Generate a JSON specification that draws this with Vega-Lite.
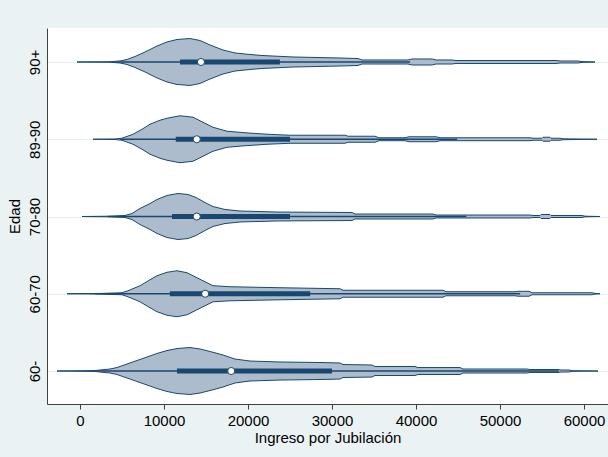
{
  "$schema": "https://vega.github.io/schema/vega-lite/v6.json",
  "width": 561,
  "height": 376,
  "autosize": "none",
  "padding": {"left": 47, "top": 28, "right": 0, "bottom": 53},
  "background": "#eaf2f3",
  "config": {
    "view": {"stroke": null, "fill": "white"},
    "font": "Liberation Sans",
    "axis": {"labelFont": "Liberation Sans", "titleFont": "Liberation Sans", "labelColor": "#000000", "titleColor": "#000000", "titleFontWeight": "normal", "labelFontSize": 15, "titleFontSize": 15, "domainColor": "#404040", "tickColor": "#404040"}
  },
  "datasets": {
    "violin": [
      {"edad": "90+", "ingreso": -357, "densidad": 0},
      {"edad": "90+", "ingreso": 3571, "densidad": 0.004},
      {"edad": "90+", "ingreso": 4762, "densidad": 0.013},
      {"edad": "90+", "ingreso": 5595, "densidad": 0.032},
      {"edad": "90+", "ingreso": 6548, "densidad": 0.071},
      {"edad": "90+", "ingreso": 7738, "densidad": 0.129},
      {"edad": "90+", "ingreso": 9167, "densidad": 0.207},
      {"edad": "90+", "ingreso": 10357, "densidad": 0.259},
      {"edad": "90+", "ingreso": 11548, "densidad": 0.291},
      {"edad": "90+", "ingreso": 13095, "densidad": 0.304},
      {"edad": "90+", "ingreso": 14286, "densidad": 0.278},
      {"edad": "90+", "ingreso": 15476, "densidad": 0.220},
      {"edad": "90+", "ingreso": 17024, "densidad": 0.155},
      {"edad": "90+", "ingreso": 18452, "densidad": 0.117},
      {"edad": "90+", "ingreso": 20238, "densidad": 0.097},
      {"edad": "90+", "ingreso": 21667, "densidad": 0.084},
      {"edad": "90+", "ingreso": 25357, "densidad": 0.065},
      {"edad": "90+", "ingreso": 30952, "densidad": 0.052},
      {"edad": "90+", "ingreso": 33095, "densidad": 0.045},
      {"edad": "90+", "ingreso": 33571, "densidad": 0.026},
      {"edad": "90+", "ingreso": 39048, "densidad": 0.026},
      {"edad": "90+", "ingreso": 39524, "densidad": 0.039},
      {"edad": "90+", "ingreso": 41905, "densidad": 0.039},
      {"edad": "90+", "ingreso": 42381, "densidad": 0.026},
      {"edad": "90+", "ingreso": 44286, "densidad": 0.026},
      {"edad": "90+", "ingreso": 44762, "densidad": 0.019},
      {"edad": "90+", "ingreso": 56667, "densidad": 0.019},
      {"edad": "90+", "ingreso": 57143, "densidad": 0.013},
      {"edad": "90+", "ingreso": 59286, "densidad": 0.013},
      {"edad": "90+", "ingreso": 59762, "densidad": 0.005},
      {"edad": "90+", "ingreso": 61310, "densidad": 0},

      {"edad": "89-90", "ingreso": 1548, "densidad": 0},
      {"edad": "89-90", "ingreso": 4167, "densidad": 0.004},
      {"edad": "89-90", "ingreso": 5000, "densidad": 0.013},
      {"edad": "89-90", "ingreso": 6310, "densidad": 0.065},
      {"edad": "89-90", "ingreso": 7381, "densidad": 0.129},
      {"edad": "89-90", "ingreso": 8333, "densidad": 0.194},
      {"edad": "89-90", "ingreso": 9524, "densidad": 0.246},
      {"edad": "89-90", "ingreso": 10357, "densidad": 0.272},
      {"edad": "89-90", "ingreso": 11905, "densidad": 0.304},
      {"edad": "89-90", "ingreso": 13452, "densidad": 0.285},
      {"edad": "89-90", "ingreso": 14643, "densidad": 0.220},
      {"edad": "89-90", "ingreso": 15833, "densidad": 0.155},
      {"edad": "89-90", "ingreso": 17500, "densidad": 0.104},
      {"edad": "89-90", "ingreso": 19643, "densidad": 0.084},
      {"edad": "89-90", "ingreso": 22262, "densidad": 0.065},
      {"edad": "89-90", "ingreso": 25000, "densidad": 0.052},
      {"edad": "89-90", "ingreso": 31548, "densidad": 0.052},
      {"edad": "89-90", "ingreso": 31905, "densidad": 0.039},
      {"edad": "89-90", "ingreso": 35119, "densidad": 0.039},
      {"edad": "89-90", "ingreso": 35595, "densidad": 0.019},
      {"edad": "89-90", "ingreso": 38690, "densidad": 0.019},
      {"edad": "89-90", "ingreso": 39167, "densidad": 0.032},
      {"edad": "89-90", "ingreso": 42381, "densidad": 0.032},
      {"edad": "89-90", "ingreso": 42857, "densidad": 0.019},
      {"edad": "89-90", "ingreso": 53571, "densidad": 0.019},
      {"edad": "89-90", "ingreso": 53929, "densidad": 0.013},
      {"edad": "89-90", "ingreso": 55000, "densidad": 0.013},
      {"edad": "89-90", "ingreso": 55119, "densidad": 0.026},
      {"edad": "89-90", "ingreso": 55952, "densidad": 0.026},
      {"edad": "89-90", "ingreso": 56071, "densidad": 0.013},
      {"edad": "89-90", "ingreso": 57143, "densidad": 0.013},
      {"edad": "89-90", "ingreso": 57500, "densidad": 0.006},
      {"edad": "89-90", "ingreso": 61548, "densidad": 0},

      {"edad": "70-80", "ingreso": 238, "densidad": 0},
      {"edad": "70-80", "ingreso": 3571, "densidad": 0.004},
      {"edad": "70-80", "ingreso": 5357, "densidad": 0.013},
      {"edad": "70-80", "ingreso": 6190, "densidad": 0.039},
      {"edad": "70-80", "ingreso": 7143, "densidad": 0.104},
      {"edad": "70-80", "ingreso": 8333, "densidad": 0.168},
      {"edad": "70-80", "ingreso": 9167, "densidad": 0.220},
      {"edad": "70-80", "ingreso": 10357, "densidad": 0.272},
      {"edad": "70-80", "ingreso": 11667, "densidad": 0.298},
      {"edad": "70-80", "ingreso": 12857, "densidad": 0.285},
      {"edad": "70-80", "ingreso": 13810, "densidad": 0.246},
      {"edad": "70-80", "ingreso": 14881, "densidad": 0.181},
      {"edad": "70-80", "ingreso": 15833, "densidad": 0.129},
      {"edad": "70-80", "ingreso": 17262, "densidad": 0.091},
      {"edad": "70-80", "ingreso": 19048, "densidad": 0.071},
      {"edad": "70-80", "ingreso": 23452, "densidad": 0.058},
      {"edad": "70-80", "ingreso": 32381, "densidad": 0.052},
      {"edad": "70-80", "ingreso": 32738, "densidad": 0.032},
      {"edad": "70-80", "ingreso": 42024, "densidad": 0.032},
      {"edad": "70-80", "ingreso": 42381, "densidad": 0.019},
      {"edad": "70-80", "ingreso": 53571, "densidad": 0.019},
      {"edad": "70-80", "ingreso": 53929, "densidad": 0.013},
      {"edad": "70-80", "ingreso": 54762, "densidad": 0.013},
      {"edad": "70-80", "ingreso": 54881, "densidad": 0.026},
      {"edad": "70-80", "ingreso": 55952, "densidad": 0.026},
      {"edad": "70-80", "ingreso": 56071, "densidad": 0.013},
      {"edad": "70-80", "ingreso": 59762, "densidad": 0.013},
      {"edad": "70-80", "ingreso": 60119, "densidad": 0.004},
      {"edad": "70-80", "ingreso": 61905, "densidad": 0},

      {"edad": "60-70", "ingreso": -1548, "densidad": 0},
      {"edad": "60-70", "ingreso": 2381, "densidad": 0.004},
      {"edad": "60-70", "ingreso": 5000, "densidad": 0.013},
      {"edad": "60-70", "ingreso": 5714, "densidad": 0.039},
      {"edad": "60-70", "ingreso": 7143, "densidad": 0.104},
      {"edad": "60-70", "ingreso": 8333, "densidad": 0.181},
      {"edad": "60-70", "ingreso": 9167, "densidad": 0.233},
      {"edad": "60-70", "ingreso": 10357, "densidad": 0.278},
      {"edad": "60-70", "ingreso": 11548, "densidad": 0.298},
      {"edad": "60-70", "ingreso": 12738, "densidad": 0.272},
      {"edad": "60-70", "ingreso": 13452, "densidad": 0.233},
      {"edad": "60-70", "ingreso": 14643, "densidad": 0.168},
      {"edad": "60-70", "ingreso": 15833, "densidad": 0.104},
      {"edad": "60-70", "ingreso": 17857, "densidad": 0.091},
      {"edad": "60-70", "ingreso": 23810, "densidad": 0.078},
      {"edad": "60-70", "ingreso": 30952, "densidad": 0.065},
      {"edad": "60-70", "ingreso": 31310, "densidad": 0.045},
      {"edad": "60-70", "ingreso": 43214, "densidad": 0.045},
      {"edad": "60-70", "ingreso": 43571, "densidad": 0.026},
      {"edad": "60-70", "ingreso": 51786, "densidad": 0.026},
      {"edad": "60-70", "ingreso": 52143, "densidad": 0.032},
      {"edad": "60-70", "ingreso": 53452, "densidad": 0.032},
      {"edad": "60-70", "ingreso": 53810, "densidad": 0.013},
      {"edad": "60-70", "ingreso": 60952, "densidad": 0.013},
      {"edad": "60-70", "ingreso": 61310, "densidad": 0.004},
      {"edad": "60-70", "ingreso": 61905, "densidad": 0},

      {"edad": "60-", "ingreso": -2738, "densidad": 0},
      {"edad": "60-", "ingreso": 1786, "densidad": 0.006},
      {"edad": "60-", "ingreso": 3571, "densidad": 0.026},
      {"edad": "60-", "ingreso": 4405, "densidad": 0.045},
      {"edad": "60-", "ingreso": 5952, "densidad": 0.104},
      {"edad": "60-", "ingreso": 7976, "densidad": 0.181},
      {"edad": "60-", "ingreso": 9167, "densidad": 0.227},
      {"edad": "60-", "ingreso": 10357, "densidad": 0.265},
      {"edad": "60-", "ingreso": 11548, "densidad": 0.291},
      {"edad": "60-", "ingreso": 13095, "densidad": 0.304},
      {"edad": "60-", "ingreso": 14286, "densidad": 0.285},
      {"edad": "60-", "ingreso": 15714, "densidad": 0.246},
      {"edad": "60-", "ingreso": 17024, "densidad": 0.207},
      {"edad": "60-", "ingreso": 18452, "densidad": 0.155},
      {"edad": "60-", "ingreso": 20238, "densidad": 0.129},
      {"edad": "60-", "ingreso": 23810, "densidad": 0.117},
      {"edad": "60-", "ingreso": 28571, "densidad": 0.110},
      {"edad": "60-", "ingreso": 30952, "densidad": 0.104},
      {"edad": "60-", "ingreso": 31310, "densidad": 0.084},
      {"edad": "60-", "ingreso": 34762, "densidad": 0.078},
      {"edad": "60-", "ingreso": 35119, "densidad": 0.058},
      {"edad": "60-", "ingreso": 39881, "densidad": 0.058},
      {"edad": "60-", "ingreso": 40238, "densidad": 0.045},
      {"edad": "60-", "ingreso": 45238, "densidad": 0.045},
      {"edad": "60-", "ingreso": 45595, "densidad": 0.026},
      {"edad": "60-", "ingreso": 53214, "densidad": 0.026},
      {"edad": "60-", "ingreso": 53571, "densidad": 0.019},
      {"edad": "60-", "ingreso": 56905, "densidad": 0.019},
      {"edad": "60-", "ingreso": 57262, "densidad": 0.013},
      {"edad": "60-", "ingreso": 58214, "densidad": 0.013},
      {"edad": "60-", "ingreso": 58571, "densidad": 0.004},
      {"edad": "60-", "ingreso": 61667, "densidad": 0}
    ],
    "caja": [
      {"edad": "90+", "minimo": 4200, "p25": 11900, "mediana": 14400, "p75": 23800, "maximo": 39300},
      {"edad": "89-90", "minimo": 4800, "p25": 11400, "mediana": 13900, "p75": 25000, "maximo": 44900},
      {"edad": "70-80", "minimo": 3300, "p25": 10950, "mediana": 13900, "p75": 25000, "maximo": 46000},
      {"edad": "60-70", "minimo": 1800, "p25": 10700, "mediana": 14900, "p75": 27400, "maximo": 52400},
      {"edad": "60-", "minimo": 2000, "p25": 11550, "mediana": 18000, "p75": 30000, "maximo": 57000}
    ]
  },
  "encoding": {
    "x": {
      "type": "quantitative",
      "scale": {"domain": [-3929, 62857], "nice": false, "zero": false},
      "axis": {"title": "Ingreso por Jubilación", "values": [0, 10000, 20000, 30000, 40000, 50000, 60000], "format": "d", "labelFlush": false, "grid": false, "tickSize": 5, "labelPadding": 4, "titlePadding": 2}
    },
    "y": {
      "type": "quantitative",
      "scale": {"domain": [0.573, 5.44], "nice": false, "zero": false},
      "axis": {"title": "Edad", "values": [1, 2, 3, 4, 5], "labelExpr": "['60-','60-70','70-80','89-90','90+'][datum.value - 1]", "labelAngle": -90, "labelAlign": "center", "labelBaseline": "bottom", "labelPadding": 5, "ticks": false, "grid": true, "gridColor": "#e6eef0", "titlePadding": 5, "labelFlush": false}
    }
  },
  "layer": [
    {
      "data": {"name": "violin"},
      "transform": [
        {"calculate": "indexof(['60-','60-70','70-80','89-90','90+'], datum.edad) + 1", "as": "pos"},
        {"calculate": "datum.pos - datum.densidad", "as": "abajo"},
        {"calculate": "datum.pos + datum.densidad", "as": "arriba"}
      ],
      "mark": {"type": "area", "fill": "#adbccc", "stroke": "#1a476f", "strokeWidth": 1, "opacity": 1},
      "encoding": {
        "x": {"field": "ingreso", "type": "quantitative"},
        "y": {"field": "abajo", "type": "quantitative"},
        "y2": {"field": "arriba"},
        "detail": {"field": "edad"}
      }
    },
    {
      "data": {"name": "caja"},
      "transform": [
        {"calculate": "indexof(['60-','60-70','70-80','89-90','90+'], datum.edad) + 1", "as": "pos"}
      ],
      "layer": [
        {
          "mark": {"type": "rule", "color": "#1a476f", "strokeWidth": 1.5},
          "encoding": {
            "x": {"field": "minimo", "type": "quantitative"},
            "x2": {"field": "maximo"},
            "y": {"field": "pos", "type": "quantitative"}
          }
        },
        {
          "mark": {"type": "rule", "color": "#1a476f", "strokeWidth": 5},
          "encoding": {
            "x": {"field": "p25", "type": "quantitative"},
            "x2": {"field": "p75"},
            "y": {"field": "pos", "type": "quantitative"}
          }
        },
        {
          "mark": {"type": "point", "filled": true, "fill": "white", "stroke": "#1a476f", "strokeWidth": 1, "size": 50, "opacity": 1},
          "encoding": {
            "x": {"field": "mediana", "type": "quantitative"},
            "y": {"field": "pos", "type": "quantitative"}
          }
        }
      ]
    }
  ]
}
